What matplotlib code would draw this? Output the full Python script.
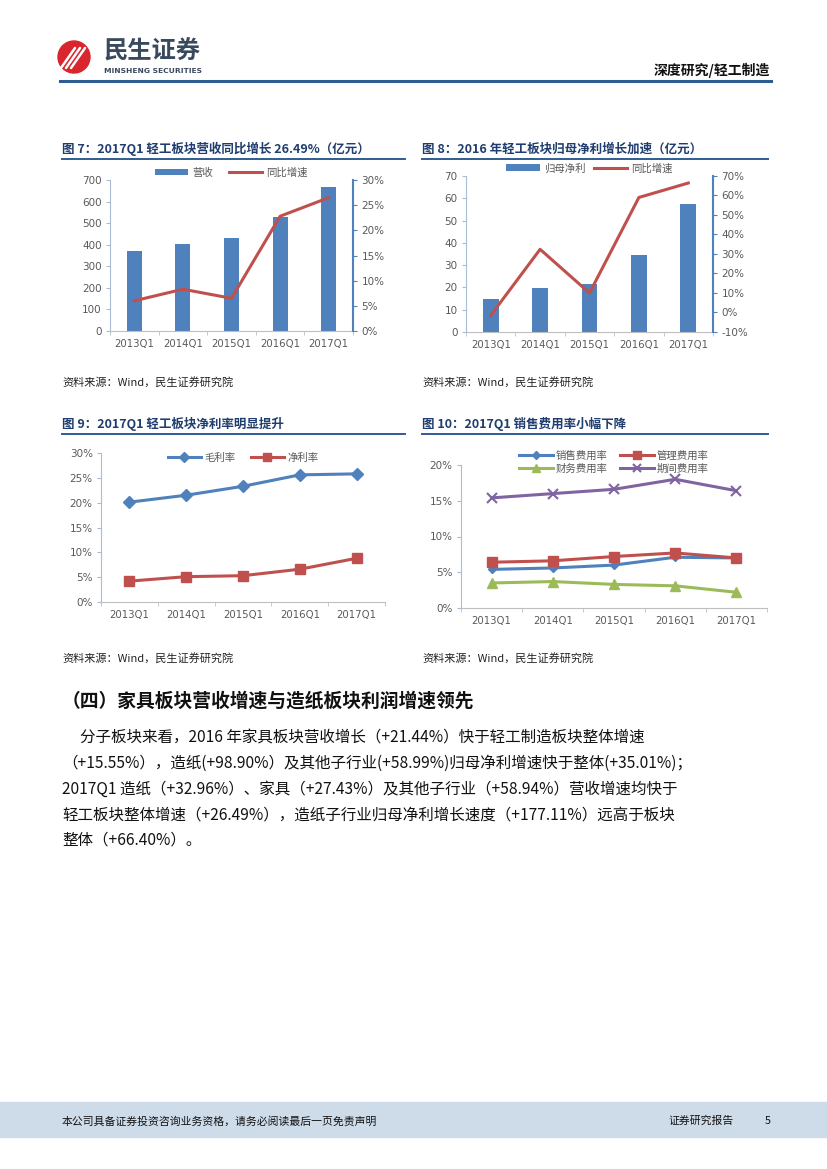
import numpy as np
import matplotlib
matplotlib.use("Agg")
import matplotlib.pyplot as plt
from matplotlib.patches import Ellipse, Rectangle
from matplotlib.lines import Line2D
from matplotlib.ticker import FuncFormatter, MultipleLocator, FixedLocator

plt.rcParams['font.family'] = ['Noto Sans CJK SC', 'DejaVu Sans']

W, H = 827, 1169

# data
quarters = ['2013Q1', '2014Q1', '2015Q1', '2016Q1', '2017Q1']
revenue = [372, 403, 430, 527, 666]
revenue_yoy = [6.0, 8.3, 6.5, 22.8, 26.49]
net_profit = [14.7, 19.6, 21.5, 34.4, 57.4]
net_profit_yoy = [-1.5, 32.4, 10.0, 59.0, 66.4]
gross_margin = [20.1, 21.5, 23.3, 25.6, 25.8]
net_margin = [4.2, 5.1, 5.3, 6.6, 8.8]
sales_exp = [5.4, 5.6, 6.0, 7.1, 7.0]
admin_exp = [6.4, 6.6, 7.2, 7.7, 7.0]
fin_exp = [3.5, 3.7, 3.3, 3.1, 2.2]
period_exp = [15.4, 16.0, 16.6, 18.0, 16.4]

BLUE = '#4F81BD'
RED = '#C0504D'
GREEN = '#9BBB59'
PURPLE = '#8064A2'
NAVY = '#1F3D6E'
GRAY = '#595959'
AXC = '#A9BCD6'
TICKFONT = ['DejaVu Sans']

fig = plt.figure(figsize=(W / 100, H / 100), dpi=100)


def rect(x0, y0, x1, y1):
    return [x0 / W, 1 - y1 / H, (x1 - x0) / W, (y1 - y0) / H]


def txt(x, y, s, **kw):
    return fig.text(x / W, 1 - y / H, s, **kw)


def hline(x0, x1, y, color, lw):
    fig.add_artist(Line2D([x0 / W, x1 / W], [1 - y / H, 1 - y / H], color=color, lw=lw))


def pct(v, pos):
    return '%d%%' % round(v)


def style_axes(ax, ymin, ymax, step, fmt=None):
    x = np.arange(len(quarters))
    ax.set_xlim(-0.5, len(quarters) - 0.5)
    ax.set_ylim(ymin, ymax)
    ax.yaxis.set_major_locator(MultipleLocator(step))
    if fmt:
        ax.yaxis.set_major_formatter(FuncFormatter(fmt))
    ax.set_xticks(x)
    ax.set_xticklabels(quarters)
    ax.xaxis.set_minor_locator(FixedLocator(np.arange(-0.5, len(quarters), 1)))
    ax.tick_params(axis='x', which='major', length=0, pad=6, labelsize=7.3, labelcolor=GRAY)
    ax.tick_params(axis='x', which='minor', length=3, color='#BFBFBF')
    ax.tick_params(axis='y', length=3, color=AXC, labelsize=7.5, labelcolor=GRAY, pad=3)
    for s in ['top', 'right']:
        ax.spines[s].set_visible(False)
    ax.spines['left'].set_color(AXC)
    ax.spines['bottom'].set_color('#BFBFBF')
    for lab in ax.get_xticklabels() + ax.get_yticklabels():
        lab.set_family(TICKFONT)


def right_axis(ax, lo, hi, step):
    ax2 = ax.twinx()
    ax2.set_ylim(lo, hi)
    ax2.yaxis.set_major_locator(MultipleLocator(step))
    ax2.yaxis.set_major_formatter(FuncFormatter(pct))
    for s in ['top', 'left', 'bottom']:
        ax2.spines[s].set_visible(False)
    ax2.spines['right'].set_color(BLUE)
    ax2.spines['right'].set_linewidth(1.5)
    ax2.tick_params(axis='y', length=3, color=BLUE, labelsize=7.5, labelcolor=GRAY, pad=3)
    for lab in ax2.get_yticklabels():
        lab.set_family(TICKFONT)
    return ax2


def chart_header(x0, x1, y, title):
    txt(x0, y, title, fontsize=9, fontweight='bold', color=NAVY, va='center')
    hline(x0, x1, y + 10, '#2F5D8F', 1.4)


def source(x0, y):
    txt(x0, y, '资料来源：Wind，民生证券研究院', fontsize=8, color='#222222', va='center')


# ---------------- header ----------------
fig.add_artist(Ellipse((74 / W, 1 - 57 / H), 32 / W, 32 / H, transform=fig.transFigure,
                       color='#D9262E', zorder=3))
for dx in [-5, 0, 5]:
    fig.add_artist(Line2D([(66 + dx) / W, (80 + dx) / W], [1 - 68 / H, 1 - 48 / H],
                          color='white', lw=1.8, zorder=4, solid_capstyle='round'))
txt(104, 52, '民生证券', fontsize=17.5, fontweight='bold', color='#3A4A5E', va='center')
txt(104, 71, 'MINSHENG SECURITIES', fontsize=5.4, fontweight='bold', color='#3A4A5E',
    va='center', family=['DejaVu Sans'])
txt(770, 70, '深度研究/轻工制造', fontsize=10, fontweight='bold', color='#111111',
    ha='right', va='center')
hline(60, 771, 81, '#2F5D8F', 2.2)

x = np.arange(len(quarters))

# ---------------- figure 7 ----------------
chart_header(62, 405, 149, '图 7：2017Q1 轻工板块营收同比增长 26.49%（亿元）')
ax = fig.add_axes(rect(110, 180, 353, 331))
b = ax.bar(x, revenue, width=0.31, color=BLUE, zorder=2)
style_axes(ax, 0, 700, 100)
ax2 = right_axis(ax, 0, 30, 5)
l, = ax2.plot(x, revenue_yoy, color=RED, lw=2.2)
ax.legend([b, l], ['营收', '同比增速'], loc='center', bbox_to_anchor=(0.5, 1.05), ncol=2,
          frameon=False, fontsize=7.5, handlelength=3.2, handleheight=0.6,
          columnspacing=1.5, handletextpad=0.4, labelcolor=GRAY)
source(62, 382)

# ---------------- figure 8 ----------------
chart_header(422, 768, 149, '图 8：2016 年轻工板块归母净利增长加速（亿元）')
ax = fig.add_axes(rect(466, 176, 713, 332))
b = ax.bar(x, net_profit, width=0.32, color=BLUE, zorder=2)
style_axes(ax, 0, 70, 10)
ax2 = right_axis(ax, -10, 70, 10)
l, = ax2.plot(x, net_profit_yoy, color=RED, lw=2.2)
ax.legend([b, l], ['归母净利', '同比增速'], loc='center', bbox_to_anchor=(0.5, 1.05), ncol=2,
          frameon=False, fontsize=7.5, handlelength=3.2, handleheight=0.6,
          columnspacing=0.8, handletextpad=0.4, labelcolor=GRAY)
source(422, 382)

# ---------------- figure 9 ----------------
chart_header(62, 405, 424, '图 9：2017Q1 轻工板块净利率明显提升')
ax = fig.add_axes(rect(101, 453, 385, 602))
ax.plot(x, gross_margin, color=BLUE, lw=2.2, marker='D', ms=6, label='毛利率')
ax.plot(x, net_margin, color=RED, lw=2.2, marker='s', ms=7, label='净利率')
style_axes(ax, 0, 30, 5, pct)
ax.legend(loc='center', bbox_to_anchor=(0.5, 0.97), ncol=2, frameon=False, fontsize=7.5,
          handlelength=3.2, columnspacing=1.5, handletextpad=0.3, labelcolor=GRAY,
          markerscale=0.8)
source(62, 658)

# ---------------- figure 10 ----------------
chart_header(422, 768, 424, '图 10：2017Q1 销售费用率小幅下降')
ax = fig.add_axes(rect(461, 465, 767, 608))
h1, = ax.plot(x, sales_exp, color=BLUE, lw=2.2, marker='D', ms=4.5)
h2, = ax.plot(x, admin_exp, color=RED, lw=2.2, marker='s', ms=7)
h3, = ax.plot(x, fin_exp, color=GREEN, lw=2.2, marker='^', ms=7)
h4, = ax.plot(x, period_exp, color=PURPLE, lw=2.2, marker='x', ms=7, mew=1.5)
style_axes(ax, 0, 20, 5, pct)
ax.legend([h1, h3, h2, h4], ['销售费用率', '财务费用率', '管理费用率', '期间费用率'],
          loc='center', bbox_to_anchor=(0.5, 1.02), ncol=2, frameon=False, fontsize=7.5,
          handlelength=3.2, columnspacing=1.2, handletextpad=0.3, labelcolor=GRAY,
          labelspacing=0.3, markerscale=0.8)
source(422, 658)

# ---------------- text section ----------------
txt(62, 701, '（四）家具板块营收增速与造纸板块利润增速领先', fontsize=13.5,
    fontweight='bold', color='#111111', va='center')
body = [
    (80, '分子板块来看，2016 年家具板块营收增长（+21.44%）快于轻工制造板块整体增速'),
    (62, '（+15.55%），造纸(+98.90%）及其他子行业(+58.99%)归母净利增速快于整体(+35.01%)；'),
    (62, '2017Q1 造纸（+32.96%）、家具（+27.43%）及其他子行业（+58.94%）营收增速均快于'),
    (62, '轻工板块整体增速（+26.49%），造纸子行业归母净利增长速度（+177.11%）远高于板块'),
    (62, '整体（+66.40%）。'),
]
ys = [737, 763, 789, 815, 840]
for (x0, s), y in zip(body, ys):
    txt(x0, y, s, fontsize=11.2, color='#111111', va='center')

# ---------------- footer ----------------
fig.add_artist(Rectangle((0, 1 - 1137 / H), 1, 35 / H, transform=fig.transFigure,
                         color='#CEDBE9', zorder=0))
txt(62, 1121, '本公司具备证券投资咨询业务资格，请务必阅读最后一页免责声明', fontsize=7.8,
    color='#111111', va='center')
txt(668, 1121, '证券研究报告', fontsize=7.8, color='#111111', va='center')
txt(765, 1121, '5', fontsize=7.8, color='#111111', va='center')

fig.savefig('out.png', dpi=100)
